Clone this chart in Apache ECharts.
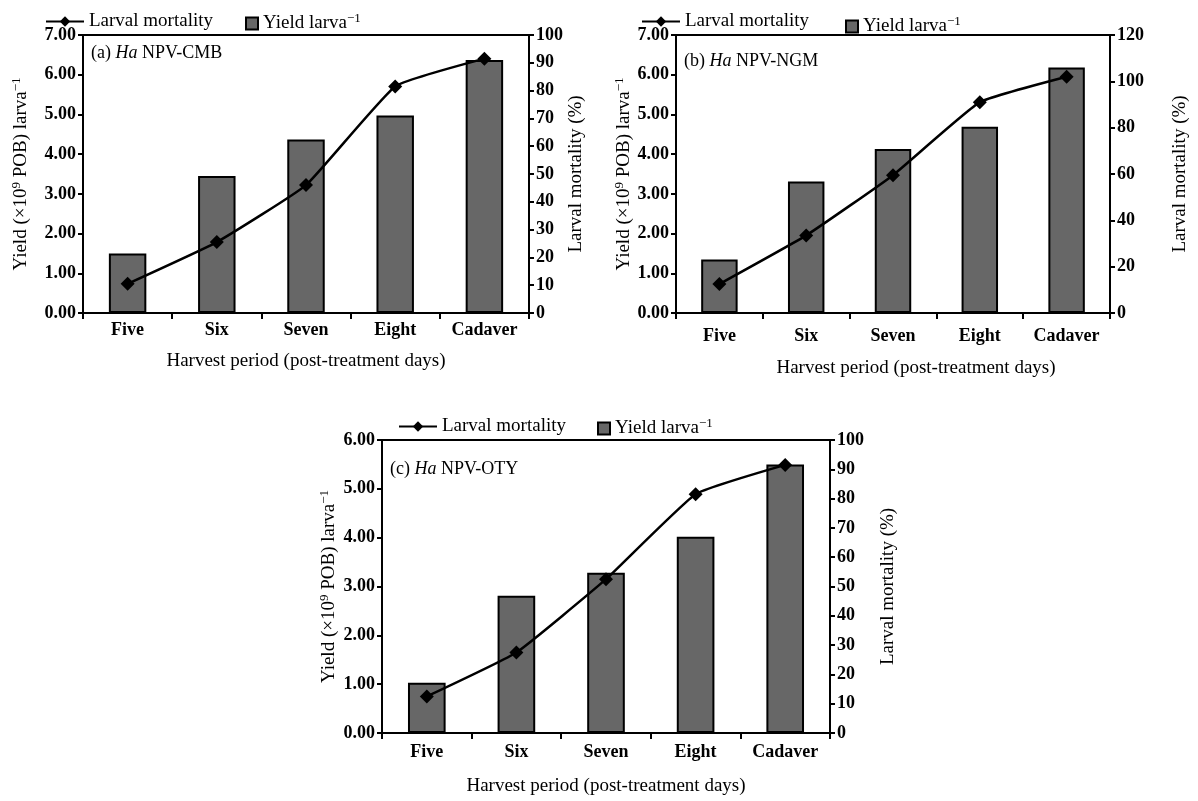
<!DOCTYPE html>
<html lang="en">

<head>
  <meta charset="UTF-8">
  <title>Harvest period yield</title>
  <style>
    body,
    html {
      margin: 0;
      padding: 0;
      background: #fff;
    }

    #main {
      width: 1198px;
      height: 801px;
    }
  </style>
</head>

<body>
  <div id="main"></div>
  <script src="https://cdn.jsdelivr.net/npm/echarts@6/dist/echarts.min.js"></script>
  <script>
    var categories = ['Five', 'Six', 'Seven', 'Eight', 'Cadaver'];

    var yieldA = [1.50, 3.45, 4.37, 4.97, 6.37];
    var mortalityA = [10.5, 25.5, 46, 81.5, 91.5];

    var yieldB = [1.35, 3.31, 4.13, 4.69, 6.18];
    var mortalityB = [12.5, 33.5, 59.5, 91, 102];

    var yieldC = [1.03, 2.81, 3.28, 4.02, 5.50];
    var mortalityC = [12.5, 27.5, 52.5, 81.5, 91.5];

    var panelTitles = ['(a) {i|Ha} NPV-CMB', '(b) {i|Ha} NPV-NGM', '(c) {i|Ha} NPV-OTY'];

    var serif = '"Liberation Serif", "Times New Roman", serif';
    var rich = {
      t: { fontFamily: serif, fontSize: 19, color: '#000' },
      s: { fontFamily: serif, fontSize: 13, color: '#000', padding: [0, 0, 10, 0] },
      i: { fontFamily: serif, fontSize: 18, fontStyle: 'italic', color: '#000' }
    };

    // plot areas, in px
    var grids = [
      { left: 83, top: 35, width: 446, height: 278 },
      { left: 676, top: 35, width: 434, height: 278 },
      { left: 382, top: 440, width: 448, height: 293 }
    ];
    var leftMax = [7, 7, 6];
    var rightMax = [100, 120, 100];
    var rightStep = [10, 20, 10];
    var titleTop = [4, 12, 15];
    var leftNameGap = [50, 40, 41];
    var rightNameGap = [34, 61, 49];
    var xNameGap = [39, 46, 44];
    var xNamePad = [0, 46, 0];
    var xLabelMargin = [8, 14, 10];
    var legendPos = [
      { line: [40, 7], bar: [240, 7] },
      { line: [636, 7], bar: [840, 10] },
      { line: [393, 412], bar: [592, 412] }
    ];

    var myChart = echarts.init(document.getElementById('main'));

    var axisLine = { show: true, lineStyle: { color: '#000', width: 2 } };
    var tickStyle = { show: true, length: 5, lineStyle: { color: '#000', width: 2 } };
    var tickLabel = { color: '#000', fontFamily: serif, fontSize: 18, fontWeight: 'bold' };

    var option = {
      animation: false,
      backgroundColor: '#fff',
      title: [],
      legend: [],
      grid: [],
      xAxis: [],
      yAxis: [],
      series: []
    };

    var yields = [yieldA, yieldB, yieldC];
    var mortality = [mortalityA, mortalityB, mortalityC];

    grids.forEach(function (g, k) {
      option.grid.push({
        left: g.left,
        top: g.top,
        width: g.width,
        height: g.height,
        show: true,
        borderColor: '#000',
        borderWidth: 2
      });
      option.title.push({
        text: panelTitles[k],
        left: g.left + 3,
        top: g.top + titleTop[k],
        textStyle: { fontFamily: serif, fontSize: 18, fontWeight: 'normal', color: '#000', rich: rich }
      });
      option.xAxis.push({
        type: 'category',
        gridIndex: k,
        data: categories,
        name: 'Harvest period (post-treatment days)',
        nameLocation: 'middle',
        nameGap: xNameGap[k],
        nameTextStyle: { color: '#000', fontFamily: serif, fontSize: 19, padding: [0, 0, 0, xNamePad[k]] },
        axisLine: axisLine,
        axisTick: { show: true, length: 6, lineStyle: { color: '#000', width: 2 } },
        axisLabel: Object.assign({ margin: xLabelMargin[k], interval: 0 }, tickLabel)
      });
      option.yAxis.push({
        type: 'value',
        gridIndex: k,
        position: 'left',
        min: 0,
        max: leftMax[k],
        interval: 1,
        name: '{t|Yield (×10}{s|9}{t| POB) larva}{s|−1}',
        nameLocation: 'middle',
        nameGap: leftNameGap[k],
        nameRotate: 90,
        nameTextStyle: { rich: rich },
        axisLine: axisLine,
        axisTick: tickStyle,
        splitLine: { show: false },
        axisLabel: Object.assign({ margin: 7, formatter: function (v) { return v.toFixed(2); } }, tickLabel)
      });
      option.yAxis.push({
        type: 'value',
        gridIndex: k,
        position: 'right',
        min: 0,
        max: rightMax[k],
        interval: rightStep[k],
        name: 'Larval mortality (%)',
        nameLocation: 'middle',
        nameGap: rightNameGap[k],
        nameRotate: 90,
        nameTextStyle: { color: '#000', fontFamily: serif, fontSize: 19 },
        axisLine: axisLine,
        axisTick: tickStyle,
        splitLine: { show: false },
        axisLabel: Object.assign({ margin: 7 }, tickLabel)
      });
      option.series.push({
        name: 'Yield larva',
        type: 'bar',
        xAxisIndex: k,
        yAxisIndex: 2 * k,
        barWidth: '42%',
        itemStyle: { color: '#676767', borderColor: '#000', borderWidth: 2 },
        data: yields[k]
      });
      option.series.push({
        name: 'Larval mortality',
        type: 'line',
        xAxisIndex: k,
        yAxisIndex: 2 * k + 1,
        smooth: 0.12,
        symbol: 'diamond',
        symbolSize: 14,
        lineStyle: { color: '#000', width: 2.5 },
        itemStyle: { color: '#000' },
        data: mortality[k]
      });
      option.legend.push({
        left: legendPos[k].line[0],
        top: legendPos[k].line[1],
        data: ['Larval mortality'],
        itemWidth: 38,
        itemHeight: 13,
        textStyle: { color: '#000', fontFamily: serif, fontSize: 19 }
      });
      option.legend.push({
        left: legendPos[k].bar[0],
        top: legendPos[k].bar[1],
        data: [{ name: 'Yield larva', icon: 'rect' }],
        itemWidth: 12,
        itemHeight: 12,
        formatter: function () { return '{t|Yield larva}{s|−1}'; },
        textStyle: { rich: rich }
      });
    });

    myChart.setOption(option);
  </script>
</body>

</html>
